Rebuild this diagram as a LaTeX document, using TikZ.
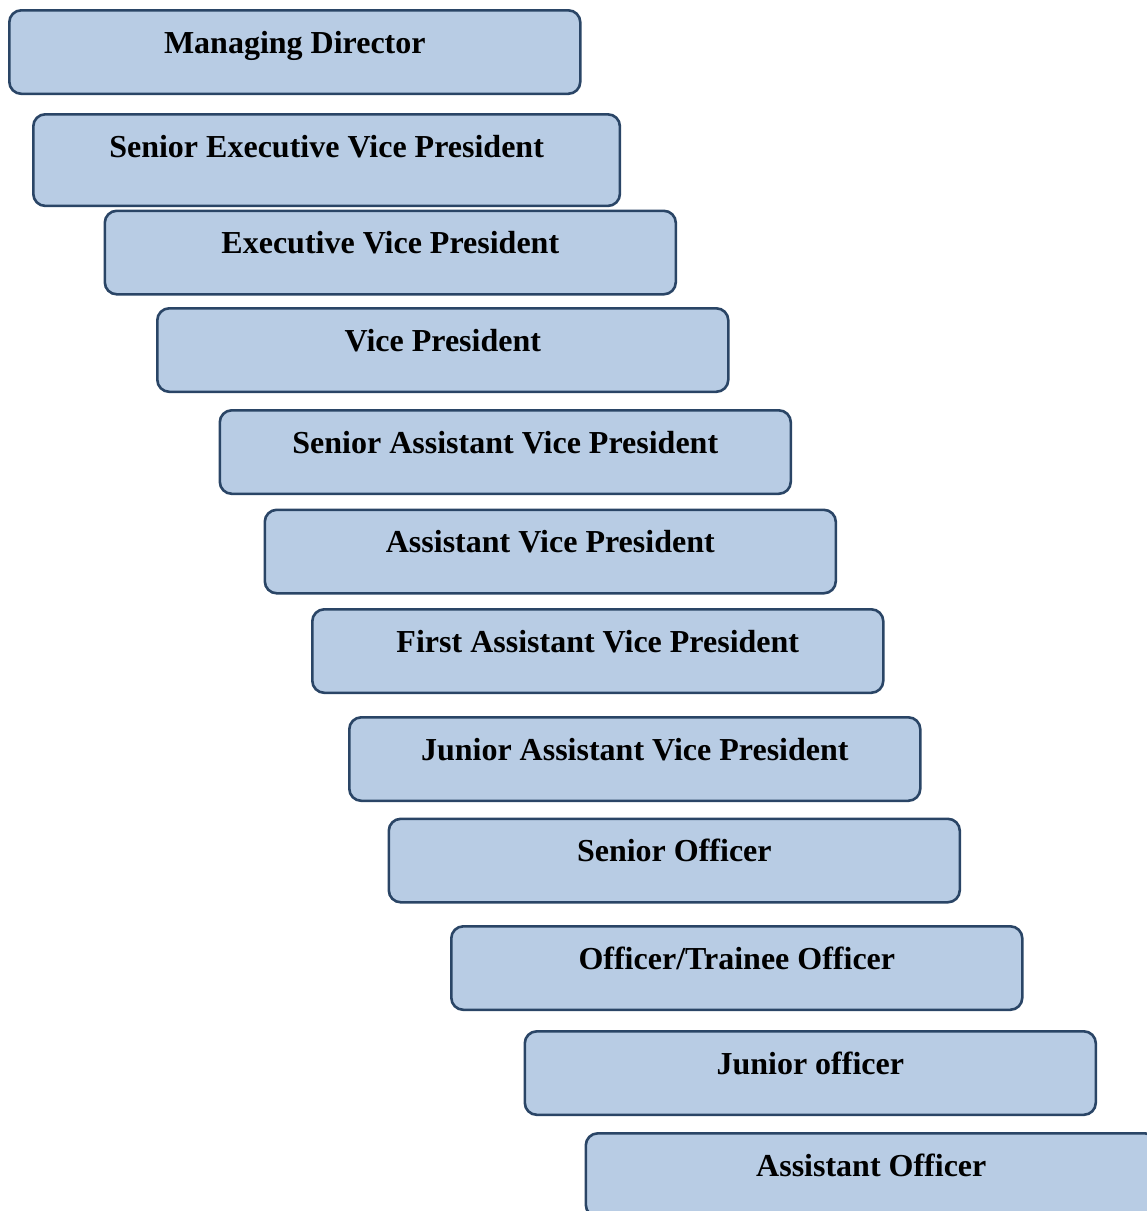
\documentclass[tikz,border=0pt]{standalone}
\usepackage{fontspec}
\setmainfont{Liberation Serif}
\usepackage{tikz}
\usepackage{xcolor}
\usetikzlibrary{positioning}
\definecolor{rankFill}{HTML}{B8CCE4}
\definecolor{rankLine}{HTML}{2A4566}

\begin{document}
\begin{tikzpicture}[x=1pt,y=-1pt,
  rankbox/.style={draw=rankLine,fill=rankFill,line width=2.6pt,rounded corners=12pt,
    anchor=north west,inner sep=0pt,text height=43pt,
    font=\fontsize{32}{36}\selectfont\bfseries}]
\useasboundingbox (0,0) rectangle (1147,1211);
\clip (0,0) rectangle (1147,1211);
\newcommand{\rankbox}[6]{%
  \node[rankbox,minimum width=#4pt,text depth=#5pt] (#1) at (#2,#3) {#6};
}
\rankbox{md}{8}{9}{571}{40.5}{Managing Director}
\rankbox{sevp}{32}{113}{586.6}{48.6}{Senior Executive Vice President}
\rankbox{evp}{103.5}{209.5}{571}{40.5}{Executive Vice President}
\rankbox{vp}{156}{307}{571}{40.5}{Vice President}
\rankbox{savp}{218.5}{409}{571}{40.5}{Senior Assistant Vice President}
\rankbox{avp}{263.5}{508.5}{571}{40.5}{Assistant Vice President}
\rankbox{favp}{311}{608}{571}{40.5}{First Assistant Vice President}
\rankbox{javp}{348}{716}{571}{40.5}{Junior Assistant Vice President}
\rankbox{so}{387.5}{817.5}{571}{40.5}{Senior Officer}
\rankbox{to}{450}{925}{571}{40.5}{Officer/Trainee Officer}
\rankbox{jo}{523.5}{1030}{571}{40.5}{Junior officer}
\rankbox{ao}{584.5}{1132}{571}{40.5}{Assistant Officer}
\end{tikzpicture}
\end{document}
